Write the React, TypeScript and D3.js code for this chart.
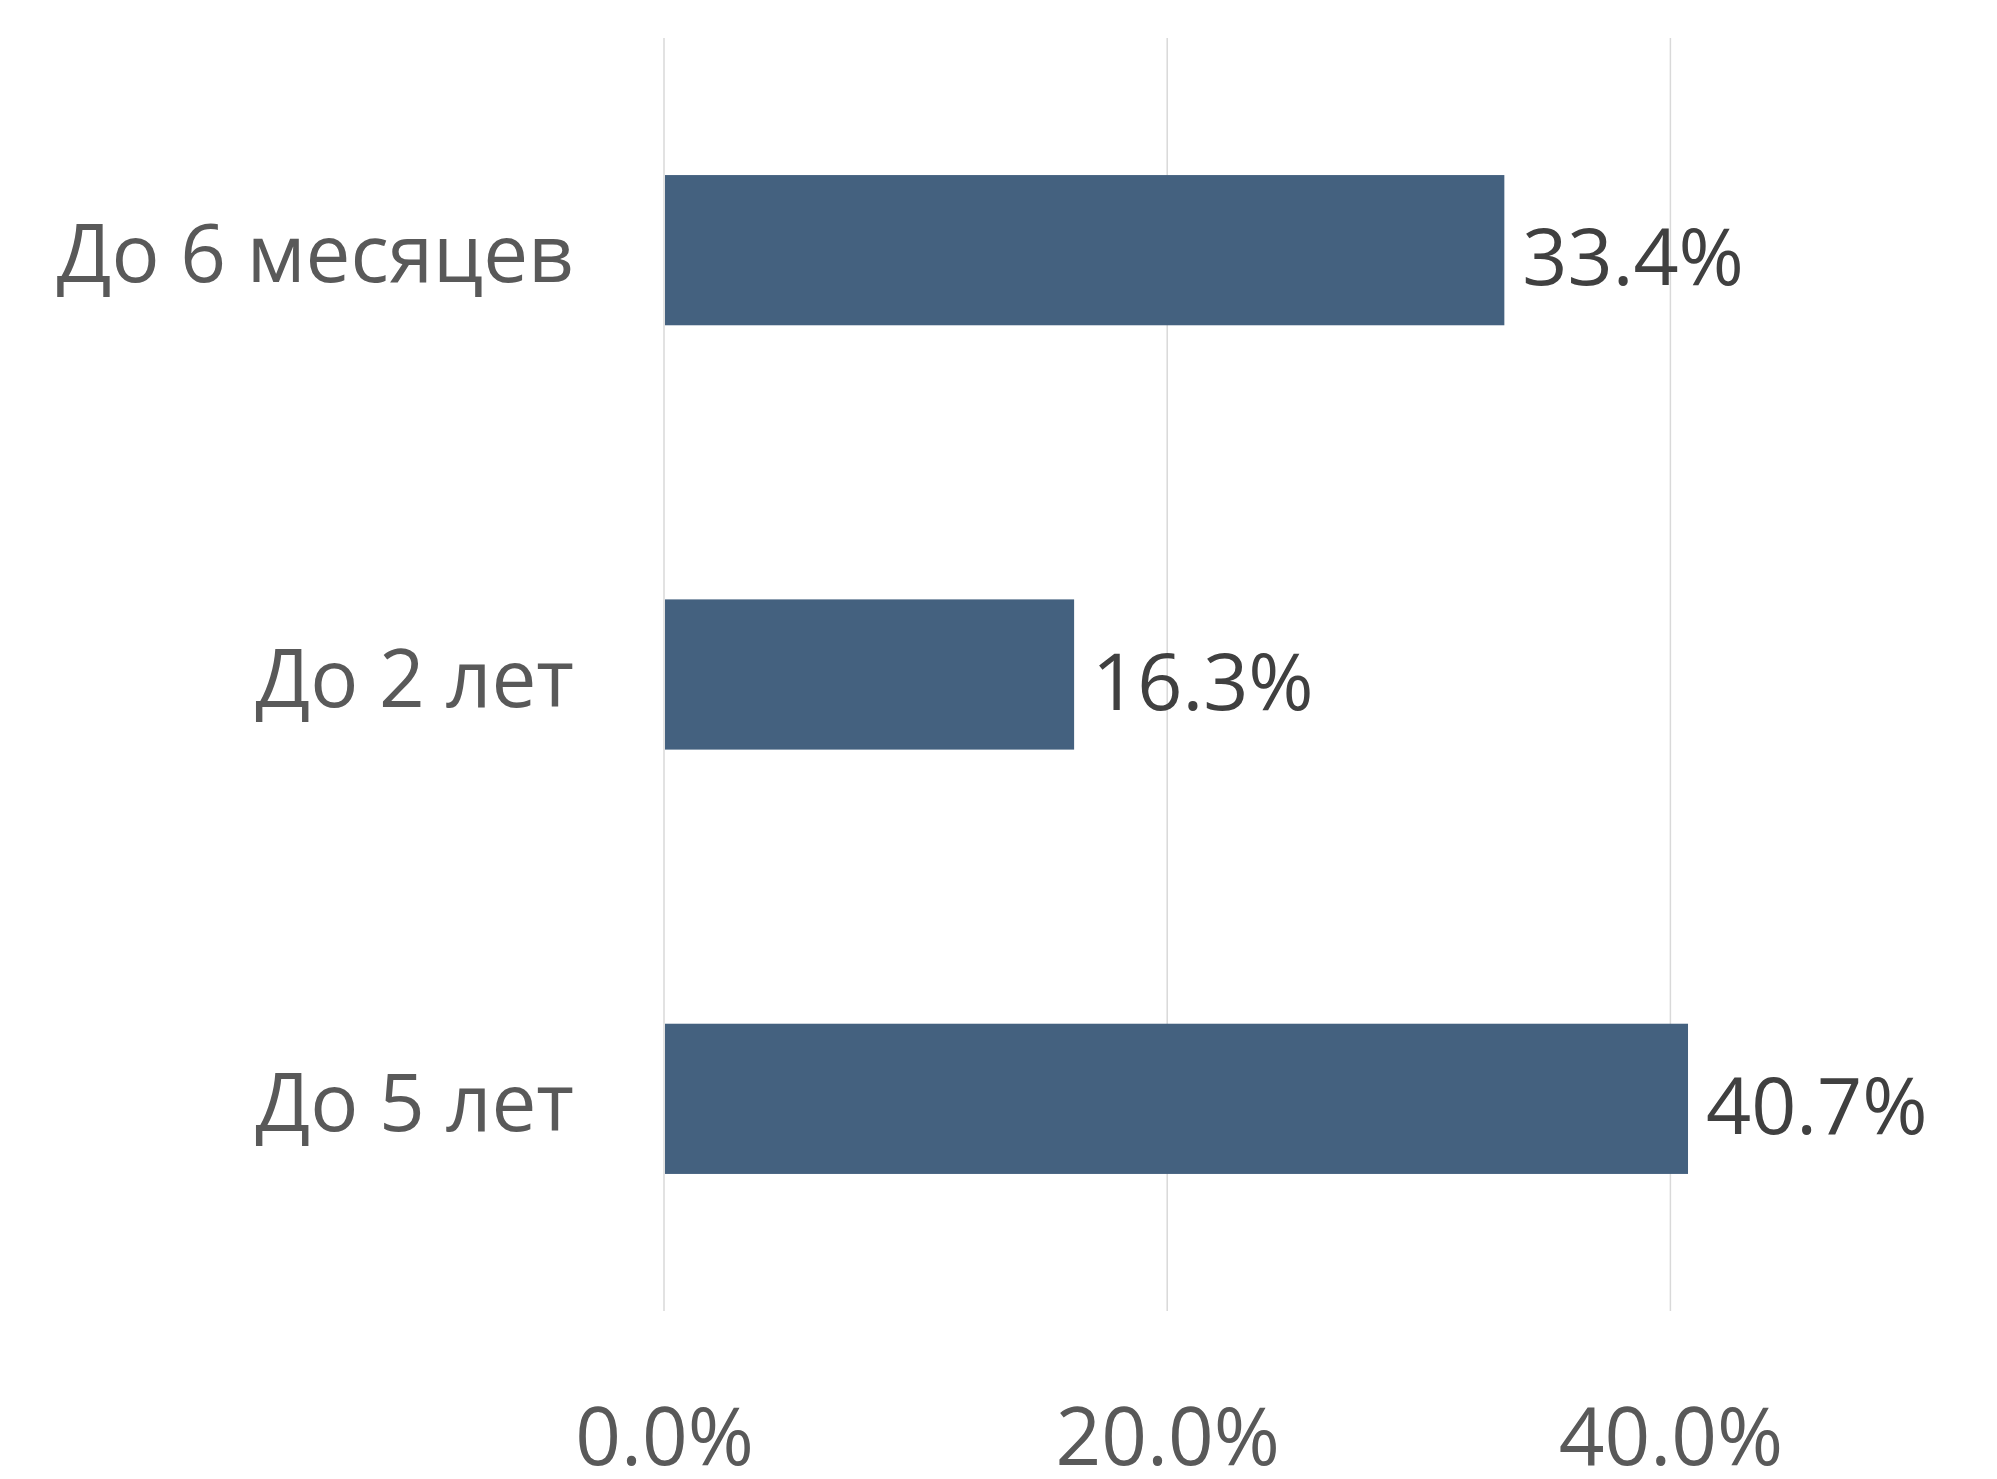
import React, { useEffect, useRef } from "react";
import * as d3 from "d3";

const categories = ["До 6 месяцев", "До 2 лет", "До 5 лет"];
const values = [0.334, 0.163, 0.407];
const tickValues = [0, 0.2, 0.4];

const App = () => {
  const svgRef = useRef<SVGSVGElement>(null);

  useEffect(() => {
    const width = 1997;
    const height = 1479;
    const margin = { top: 38, right: 75, bottom: 168, left: 664 };
    const font = "'Open Sans', 'Noto Sans', sans-serif";

    const svg = d3.select(svgRef.current);
    svg.selectAll("*").remove();

    const xScale = d3
      .scaleLinear()
      .domain([0, 0.5])
      .range([margin.left, margin.left + 503.2 * 2.5]);

    const yScale = d3
      .scaleBand()
      .domain(categories)
      .range([margin.top, height - margin.bottom])
      .paddingInner(0.646)
      .paddingOuter(0.323);

    // gridlines
    svg
      .append("g")
      .selectAll("line")
      .data(tickValues)
      .enter()
      .append("line")
      .attr("x1", (d) => xScale(d))
      .attr("x2", (d) => xScale(d))
      .attr("y1", margin.top)
      .attr("y2", height - margin.bottom)
      .attr("stroke", "#d9d9d9")
      .attr("stroke-width", 1.5);

    // bars
    svg
      .append("g")
      .selectAll("rect")
      .data(values)
      .enter()
      .append("rect")
      .attr("x", xScale(0) + 1)
      .attr("y", (d, i) => yScale(categories[i]))
      .attr("width", (d) => xScale(d) - xScale(0) - 1)
      .attr("height", yScale.bandwidth())
      .attr("fill", "#44617f");

    // value labels
    svg
      .append("g")
      .selectAll("text")
      .data(values)
      .enter()
      .append("text")
      .attr("x", (d) => xScale(d) + 18)
      .attr("y", (d, i) => yScale(categories[i]) + yScale.bandwidth() / 2 + 14)
      .attr("dominant-baseline", "middle")
      .attr("font-family", font)
      .attr("font-size", 79)
      .attr("fill", "#404040")
      .text((d) => d3.format(".1%")(d));

    // category labels
    const yAxis = d3.axisLeft(yScale).tickSize(0).tickPadding(90);
    const yAxisG = svg
      .append("g")
      .attr("transform", `translate(${margin.left},0)`)
      .call(yAxis);
    yAxisG.select(".domain").remove();
    yAxisG
      .selectAll("text")
      .attr("dy", "0.4em")
      .attr("font-family", font)
      .attr("font-size", 80)
      .attr("fill", "#595959");

    // x axis tick labels
    const xAxis = d3
      .axisBottom(xScale)
      .tickValues(tickValues)
      .tickSize(0)
      .tickPadding(0)
      .tickFormat(d3.format(".1%"));
    const xAxisG = svg
      .append("g")
      .attr("transform", `translate(0,1408)`)
      .call(xAxis);
    xAxisG.select(".domain").remove();
    xAxisG
      .selectAll("text")
      .attr("font-family", font)
      .attr("font-size", 80)
      .attr("fill", "#595959");
  }, []);

  return (
    <svg
      ref={svgRef}
      width="1997"
      height="1479"
      style={{ position: "absolute", left: 0, top: 0, background: "#ffffff" }}
    ></svg>
  );
};

export default App;
